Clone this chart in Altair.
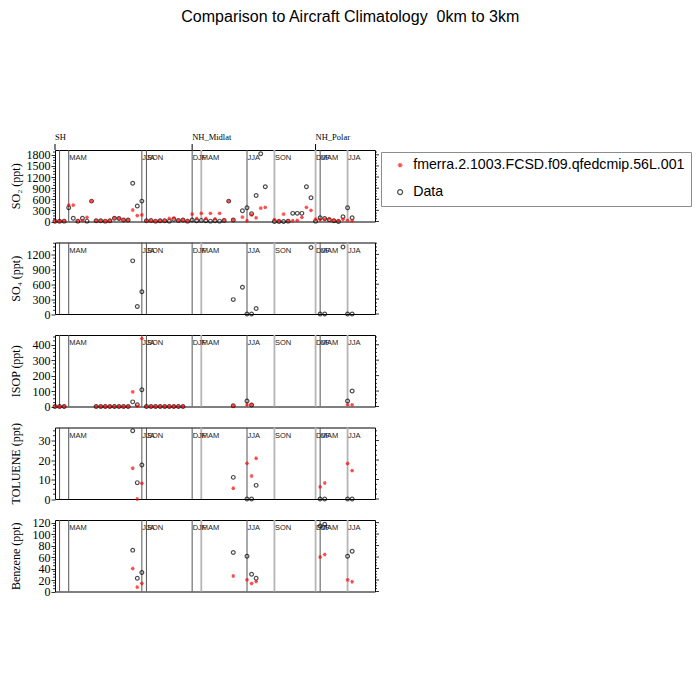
import altair as alt
import pandas as pd

MODEL = "fmerra.2.1003.FCSD.f09.qfedcmip.56L.001"
OBS = "Data"

# ---------------- data (index along the flight-campaign axis, 0..65) ----------------
N = 66
so2_obs = [5, 5, 10, 370, 90, 10, 90, 10, 550, 20,
           20, 10, 20, 90, 80, 40, 40, 1030, 420, 550,
           20, 30, 10, 20, 20, 10, 60, 30, 40, 10,
           40, 20, 30, 20, 10, 20, 10, 30, 550, 40,
           None, 290, 370, 210, 700, 1830, 940, None, 0, 0,
           0, 10, 220, 220, 220, 940, 640, 10, 100, 80,
           50, 20, 0, 130, 370, 100]
so2_mod = [5, 10, 20, 440, 440, 20, 30, 110, 550, 20,
           20, 10, 20, 90, 80, 40, 40, 310, 160, 180,
           10, 20, 10, 20, 20, 80, 90, 30, 40, 20,
           200, 80, 220, 80, 220, 70, 220, 40, 550, 40,
           None, 120, 20, 180, 100, 360, 380, None, 50, 20,
           200, 20, 20, 30, 110, 380, 300, 60, 50, 60,
           70, 30, 20, 60, 30, 20]

so4_idx = [17, 18, 19, 39, 41, 42, 43, 44, 56, 58, 59, 63, 64, 65]
so4_obs = [1070, 150, 450, 290, 540, 0, 0, 110, 1340, 0, 0, 1350, 0, 0]

isop_idx = [0, 1, 2, 9, 10, 11, 12, 13, 14, 15, 16, 17, 18, 19,
            20, 21, 22, 23, 24, 25, 26, 27, 28, 39, 42, 43, 64, 65]
isop_obs = [0, 0, 0, 0, 0, 0, 0, 0, 0, 0, 0, 30, 12, 108,
            0, 0, 0, 0, 0, 0, 0, 0, 0, 5, 35, 10, 35, 100]
isop_mod = [0, 0, 0, 0, 0, 0, 0, 0, 0, 0, 0, 95, 2, 440,
            0, 0, 0, 0, 0, 0, 0, 0, 0, 3, 11, 12, 11, 11]

voc_idx = [17, 18, 19, 39, 42, 43, 44, 58, 59, 64, 65]
tol_obs = [35, 8.4, 17.5, 11.1, 0, 0, 7, 0, 0, 0, 0]
tol_mod = [15.8, 0, 8, 5.5, 18.3, 11.8, 20.9, 6.2, 8.2, 18.2, 14.6]
benz_obs = [72, 23, 33, 68, 61.5, 30, 23, 114, 117, 61.5, 70]
benz_mod = [40, 7.5, 14, 27, 20.3, 14, 17.4, 60, 64.4, 20.3, 17]

# season / region separators
dark_lines = [1, 3, 19, 20, 30, 42, 58]
light_lines = [32, 48, 57, 64]
season_idx = [3, 19, 20, 30, 32, 42, 48, 57, 58, 64]
season_lab = ["MAM", "JJA", "SON", "DJF", "MAM", "JJA", "SON", "DJF", "MAM", "JJA"]
region_idx = [0, 30, 57]
region_lab = ["SH", "NH_Midlat", "NH_Polar"]

W, H = 320, 71.5
XDOM = [0, 70]
SERIF = "Liberation Serif"
SANS = "Liberation Sans"
AST = "M-1,0L1,0M-0.5,-0.866L0.5,0.866M-0.5,0.866L0.5,-0.866"


def make_df(idx, obs, mod):
    rows = []
    for i, v in zip(idx, obs):
        if v is not None:
            rows.append({"idx": i, "value": v, "series": OBS})
    if mod is not None:
        for i, v in zip(idx, mod):
            if v is not None:
                rows.append({"idx": i, "value": v, "series": MODEL})
    return pd.DataFrame(rows)


def panel(df, title, ymax, majors, minor_step, top=False):
    xs = alt.Scale(domain=XDOM, nice=False)
    ys = alt.Scale(domain=[0, ymax], nice=False, zero=False)
    yaxis = alt.Axis(
        title=title, values=majors, format="d", grid=False, domain=False,
        tickSize=4, tickColor="black", tickWidth=0.8,
        labelFont=SERIF, labelFontSize=12, labelColor="black", labelPadding=1,
        labelOverlap=False, labelFlush=False,
        titleFont=SERIF, titleFontSize=12, titleFontWeight="normal", titleColor="black",
        titleX=-36, titleY=H / 2, titleAngle=270, titleAlign="center",
        titleBaseline="alphabetic")
    minors = []
    k = 0
    while k * minor_step <= ymax:
        v = round(k * minor_step, 6)
        if v not in majors:
            minors.append(v)
        k += 1
    tdf_major = pd.DataFrame({"value": majors})
    tdf_minor = pd.DataFrame({"value": minors})

    if top:
        legend = alt.Legend(title=None, orient="none", legendX=326, legendY=2,
                            padding=6, strokeColor="#8c8c8c", fillColor="white",
                            labelFont=SANS, labelFontSize=14.2, labelColor="black",
                            symbolSize=25, symbolStrokeWidth=1.2, rowPadding=12,
                            labelOffset=6, symbolOffset=6, labelLimit=400)
    else:
        legend = None

    pts = alt.Chart(df).mark_point(filled=False, size=14, strokeWidth=1.2).encode(
        x=alt.X("idx:Q", scale=xs, axis=None),
        y=alt.Y("value:Q", scale=ys, axis=yaxis),
        color=alt.Color("series:N", scale=alt.Scale(domain=[MODEL, OBS], range=["red", "black"]),
                        legend=legend),
        shape=alt.Shape("series:N", scale=alt.Scale(domain=[MODEL, OBS], range=[AST, "circle"]),
                        legend=legend),
    )

    dark = alt.Chart(pd.DataFrame({"idx": dark_lines})).mark_rule(
        color="#555555", strokeWidth=1).encode(x=alt.X("idx:Q", scale=xs, axis=None))
    light = alt.Chart(pd.DataFrame({"idx": light_lines})).mark_rule(
        color="#b5b5b5", strokeWidth=1.8).encode(x=alt.X("idx:Q", scale=xs, axis=None))
    labels = alt.Chart(pd.DataFrame({"idx": season_idx, "lab": season_lab})).mark_text(
        align="left", baseline="top", dx=0.5, font=SANS, fontSize=7.5, color="#222222"
    ).encode(x=alt.X("idx:Q", scale=xs, axis=None), y=alt.value(4), text="lab:N")

    def ticks(tdf, x1, x2):
        return alt.Chart(tdf).mark_rule(color="black", strokeWidth=0.8).encode(
            y=alt.Y("value:Q", scale=ys, axis=yaxis), x=alt.value(x1), x2=alt.value(x2))

    minor_l = ticks(tdf_minor, -2, 0)
    minor_r = ticks(tdf_minor, W, W + 2)
    major_r = ticks(tdf_major, W, W + 4)

    layers = [dark, light, labels, minor_l, minor_r, major_r]
    if top:
        rdf = pd.DataFrame({"idx": region_idx, "lab": region_lab})
        rrule = alt.Chart(rdf).mark_rule(color="black", strokeWidth=1).encode(
            x=alt.X("idx:Q", scale=xs, axis=None), y=alt.value(-6), y2=alt.value(0))
        rtext = alt.Chart(rdf).mark_text(align="left", baseline="alphabetic", font=SERIF,
                                         fontSize=8.5, color="black").encode(
            x=alt.X("idx:Q", scale=xs, axis=None), y=alt.value(-10), text="lab:N")
        layers += [rrule, rtext]
    layers.append(pts)
    return alt.layer(*layers).properties(width=W, height=H)


idx_all = list(range(N))
p1 = panel(make_df(idx_all, so2_obs, so2_mod), "SO\u2082 (ppt)", 1930,
           [0, 300, 600, 900, 1200, 1500, 1800], 75, top=True)
p2 = panel(make_df(so4_idx, so4_obs, None), "SO\u2084 (ppt)", 1440,
           [0, 300, 600, 900, 1200], 75)
p3 = panel(make_df(isop_idx, isop_obs, isop_mod), "ISOP (ppt)", 463,
           [0, 100, 200, 300, 400], 25)
p4 = panel(make_df(voc_idx, tol_obs, tol_mod), "TOLUENE (ppt)", 36.7,
           [0, 10, 20, 30], 2.5)
p5 = panel(make_df(voc_idx, benz_obs, benz_mod), "Benzene (ppt)", 124.5,
           [0, 20, 40, 60, 80, 100, 120], 5)

chart = alt.VConcatChart(
    vconcat=[p1, p2, p3, p4, p5], spacing=20.5, bounds="flush",
    title=alt.TitleParams("Comparison to Aircraft Climatology \u00a00km to 3km", font=SANS,
                          fontSize=16, fontWeight="normal", color="black",
                          anchor="middle", offset=108),
    padding=0,
).resolve_scale(color="independent", shape="independent").configure_view(
    stroke="black", strokeWidth=1)

chart.save("out.html", embed_options={"renderer": "svg", "actions": False})
